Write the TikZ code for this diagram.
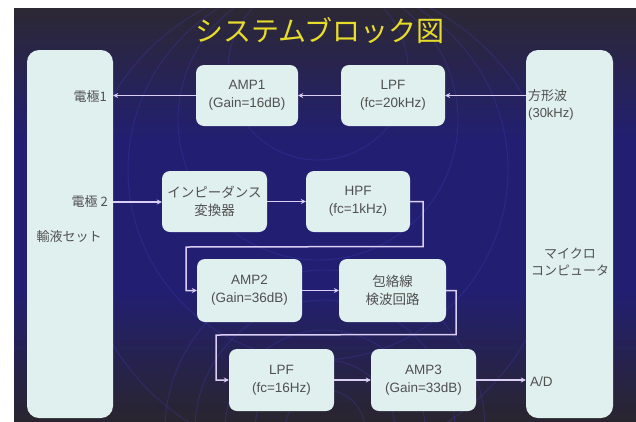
\documentclass[tikz,border=0pt]{standalone}
\usepackage{fontspec}
\setmainfont{Liberation Sans}
\newfontfamily\jp{Noto Sans CJK JP}
\usetikzlibrary{arrows.meta,calc}
\definecolor{boxfill}{HTML}{E0F0EE}
\definecolor{boxtext}{HTML}{505050}
\definecolor{conn}{HTML}{DCCFF5}
\definecolor{titlecol}{HTML}{E8DC2A}
\definecolor{bgtop}{HTML}{2C2834}
\definecolor{bgmid}{HTML}{221F72}
\definecolor{bgbot}{HTML}{29252F}
\definecolor{deco}{HTML}{4540C0}
\tikzset{
  blk/.style={fill=boxfill, rounded corners=8pt, text=boxtext, align=center,
    font=\fontsize{13.5}{18}\selectfont, inner sep=0pt},
  bigblk/.style={fill=boxfill, rounded corners=12pt, inner sep=0pt,
    minimum width=86pt, minimum height=368pt},
  lbl/.style={text=boxtext, align=center, inner sep=0pt,
    font=\fontsize{13}{17}\selectfont},
  arr/.style={draw=conn, line width=1.5pt, -{Stealth[length=5pt,width=5pt]}},
  decoline/.style={draw=deco, line width=0.9pt, opacity=0.3}
}
\begin{document}
\begin{tikzpicture}[x=1pt,y=-1pt]
\useasboundingbox (0,0) rectangle (636,421);
\fill[white] (0,0) rectangle (636,421);
\shade[top color=bgtop, bottom color=bgmid] (14,8) rectangle (636,140.5);
\fill[bgmid] (14,140) rectangle (636,290);
\shade[top color=bgmid, bottom color=bgbot] (14,289.5) rectangle (636,421);
\begin{scope}
  \clip (14,8) rectangle (636,421);
  \foreach \r in {40,70,100,130,160} {
    \draw[decoline] (325,430) circle[radius=\r pt];
  }
  \foreach \r in {90,140,190,240} {
    \draw[decoline] (318,-20) ++(0,\r) circle[radius=\r pt];
  }
\end{scope}

% title
\node[text=titlecol, font=\jp\fontsize{28}{30}\selectfont, inner sep=0pt] (title) at (320,31) {システムブロック図};

% big side boxes
\node[bigblk] (L) at (70,234) {};
\node[bigblk, minimum width=87pt] (R) at (569.5,234) {};

% row 1
\node[blk, minimum width=102pt, minimum height=61pt] (amp1) at (247,95.5) {AMP1\\(Gain=16dB)};
\node[blk, minimum width=104pt, minimum height=61pt] (lpf1) at (393,95.5) {LPF\\(fc=20kHz)};
% row 2
\node[blk, minimum width=105pt, minimum height=61pt] (imp) at (214.5,201.5) {\jp インピーダンス\\\jp 変換器};
\node[blk, minimum width=104pt, minimum height=61pt] (hpf) at (358,201.5) {HPF\\(fc=1kHz)};
% row 3
\node[blk, minimum width=105pt, minimum height=63pt] (amp2) at (249.5,290.5) {AMP2\\(Gain=36dB)};
\node[blk, minimum width=107pt, minimum height=63pt] (env) at (392.5,290.5) {\jp 包絡線\\\jp 検波回路};
% row 4
\node[blk, minimum width=105pt, minimum height=62pt] (lpf2) at (281.5,380) {LPF\\(fc=16Hz)};
\node[blk, minimum width=105pt, minimum height=62pt] (amp3) at (423.5,380) {AMP3\\(Gain=33dB)};

% labels in side boxes
\node[lbl, anchor=east] (e1) at (107,97) {\jp 電極1};
\node[lbl, anchor=east] (e2) at (108,202) {\jp 電極 2};
\node[lbl] (yueki) at (69,237) {\jp 輸液セット};
\node[lbl, anchor=west, align=left] (sq) at (528,105) {\jp 方形波\\(30kHz)};
\node[lbl] (mc) at (570,262) {\jp マイクロ\\\jp コンピュータ};
\node[lbl, anchor=west, font=\fontsize{13.5}{17}\selectfont] (ad) at (530,382) {A/D};

% connectors
\draw[arr] (R.west |- lpf1.center) -- (lpf1.east);
\draw[arr] (amp1.west -| lpf1.west) -- (amp1.east);
\draw[arr] (amp1.west) -- (amp1.west -| L.east);
\draw[arr] (e2.east -| L.east) -- (e2.east -| imp.west);
\draw[arr] (imp.east) -- (hpf.west);
\coordinate (h1) at ($(hpf.east)+(13,0)$);
\coordinate (h2) at ($(h1)+(0,45)$);
\coordinate (h3) at (186,247);
\draw[arr] (hpf.east) -- (h1) -- (h2) -- (h3) -- (h3 |- amp2.west) -- (amp2.west);
\draw[arr] (amp2.east) -- (env.west);
\coordinate (g1) at ($(env.east)+(10,0)$);
\coordinate (g2) at ($(g1)+(0,44)$);
\coordinate (g3) at (216,335);
\draw[arr] (env.east) -- (g1) -- (g2) -- (g3) -- (g3 |- lpf2.west) -- (lpf2.west);
\draw[arr] (lpf2.east) -- (amp3.west);
\draw[arr] (amp3.east) -- (amp3.east -| R.west);
\end{tikzpicture}
\end{document}
